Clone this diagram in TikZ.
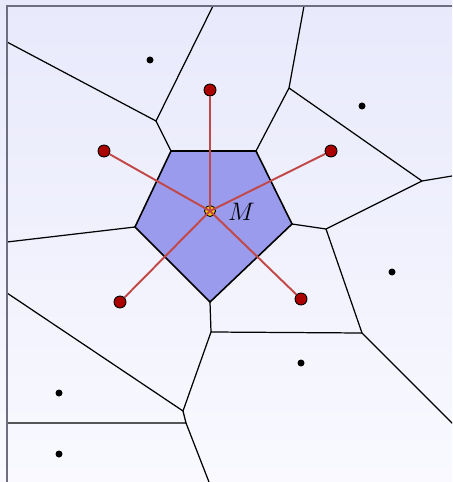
\documentclass[tikz,border=0pt]{standalone}
\definecolor{cellblue}{HTML}{9A9BEC}
\definecolor{sitered}{HTML}{AA0000}
\definecolor{linkred}{HTML}{C24848}
\definecolor{framegray}{HTML}{6E6E80}
\definecolor{bgtop}{HTML}{E8E9FB}
\definecolor{bgbot}{HTML}{F9F9FF}
\definecolor{mgold}{HTML}{F5C400}
\begin{document}
\begin{tikzpicture}[x=0.02cm, y=-0.02cm,
    edge/.style={line width=0.7pt},
    site/.style={circle, fill=black, inner sep=0pt, minimum size=7*0.02cm},
    nbsite/.style={circle, draw=black, fill=sitered, line width=0.5pt, inner sep=0pt, minimum size=12*0.02cm},
    link/.style={linkred, line width=1.1pt}]
    \shade[top color=bgtop, bottom color=bgbot] (0,0) rectangle (452,482);
    \useasboundingbox (0,0) rectangle (452,482);
    \clip (0,0) rectangle (452,482);
    % cell vertices
    \coordinate (v1) at (156,121);  \coordinate (v2) at (289,88);
    \coordinate (v3) at (422,181);  \coordinate (v4) at (326,229);
    \coordinate (v5) at (362,333);  \coordinate (v6) at (211,332);
    \coordinate (v7) at (183,411);  \coordinate (v8) at (186,423);
    \coordinate (p1) at (171,151);  \coordinate (p2) at (256,151);
    \coordinate (p3) at (292,224);  \coordinate (p4) at (210,302);
    \coordinate (p5) at (135,227);
    % ends on the frame
    \coordinate (b1) at (7,42);     \coordinate (b2) at (213,6);
    \coordinate (b3) at (304,6);    \coordinate (b4) at (470,173);
    \coordinate (b5) at (470,441);  \coordinate (b6) at (7,293);
    \coordinate (b7) at (7,423);    \coordinate (b8) at (216,500);
    \coordinate (b9) at (7,242);
    % the cell of M
    \draw[fill=cellblue, line width=0.9pt] (p1) -- (p2) -- (p3) -- (p4) -- (p5) -- cycle;
    % the other edges
    \draw[edge] (b1) -- (v1) -- (b2);
    \draw[edge] (v1) -- (p1);
    \draw[edge] (p2) -- (v2) -- (b3);
    \draw[edge] (v2) -- (v3) -- (b4);
    \draw[edge] (v3) -- (v4) -- (p3);
    \draw[edge] (v4) -- (v5) -- (b5);
    \draw[edge] (v5) -- (v6) -- (p4);
    \draw[edge] (v6) -- (v7) -- (b6);
    \draw[edge] (v7) -- (v8) -- (b7);
    \draw[edge] (v8) -- (b8);
    \draw[edge] (p5) -- (b9);
    % frame
    \draw[framegray, line width=1.1pt] (7,6) rectangle (480,510);
    % sites
    \node[site] (s1) at (150,60) {};
    \node[site] (s2) at (362,106) {};
    \node[site] (s3) at (392,272) {};
    \node[site] (s4) at (301,363) {};
    \node[site] (s5) at (59,393) {};
    \node[site] (s6) at (59,454) {};
    % M and its neighbours
    \node[circle, draw=black, fill=mgold, line width=0.5pt, inner sep=0pt, minimum size=11*0.02cm] (m) at (210,211) {};
    \node[nbsite] (n1) at (210,90) {};
    \node[nbsite] (n2) at (104,151) {};
    \node[nbsite] (n3) at (331,151) {};
    \node[nbsite] (n4) at (120,302) {};
    \node[nbsite] (n5) at (301,299) {};
    \foreach \n in {n1,n2,n3,n4,n5}
        \draw[link] (m.center) -- (\n);
    \node[font=\Large, anchor=west] (mlabel) at (222,212) {$M$};
\end{tikzpicture}
\end{document}
